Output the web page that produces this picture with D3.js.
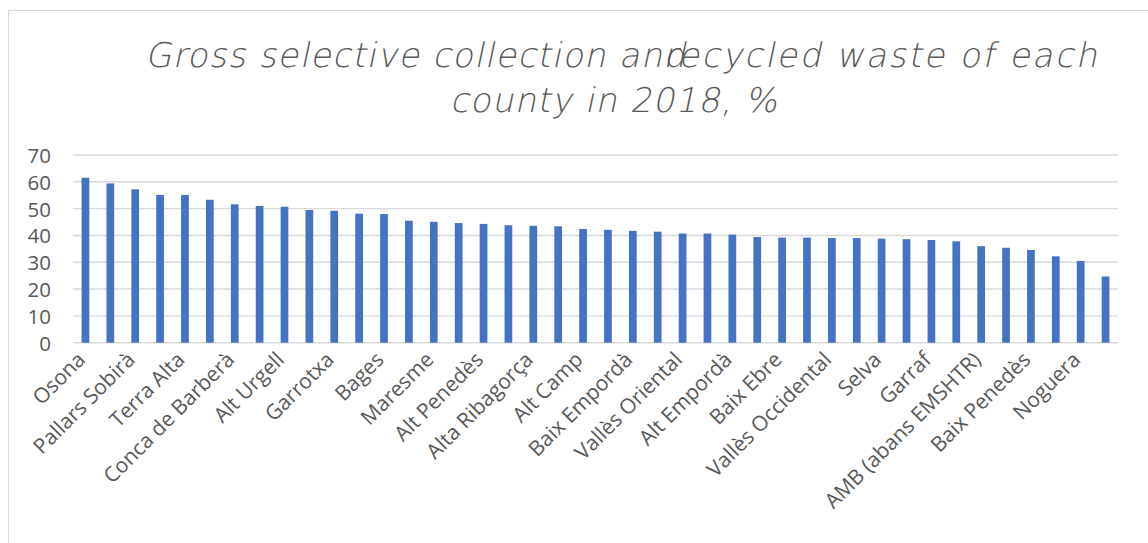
<!DOCTYPE html>
<html>
<head>
<meta charset="utf-8">
<script src="https://cdn.jsdelivr.net/npm/d3@7"></script>
<style>
  html, body { margin: 0; padding: 0; background: #fff; }
  svg { display: block; }
</style>
</head>
<body>
<svg id="chart" width="1148" height="543"></svg>
<script>
const categories = [
  "Osona", "Pla de l'Estany", "Pallars Sobirà", "Priorat", "Terra Alta", "Solsonès",
  "Conca de Barberà", "Berguedà", "Alt Urgell", "Ripollès", "Garrotxa", "Moianès",
  "Bages", "Anoia", "Maresme", "Pallars Jussà", "Alt Penedès", "Gironès",
  "Alta Ribagorça", "Segarra", "Alt Camp", "Garrigues", "Baix Empordà", "Urgell",
  "Vallès Oriental", "Pla d'Urgell", "Alt Empordà", "Cerdanya", "Baix Ebre", "Ribera d'Ebre",
  "Vallès Occidental", "Segrià", "Selva", "Montsià", "Garraf", "Baix Camp",
  "AMB (abans EMSHTR)", "Tarragonès", "Baix Penedès", "Val d'Aran", "Noguera", "Baix Llobregat"
];
const values = [
  61.5, 59.4, 57.2, 55.1, 55.1, 53.3,
  51.6, 51.0, 50.7, 49.5, 49.2, 48.1,
  48.0, 45.5, 45.1, 44.6, 44.3, 43.8,
  43.6, 43.4, 42.4, 42.1, 41.7, 41.4,
  40.7, 40.7, 40.3, 39.4, 39.2, 39.2,
  39.05, 39.0, 38.8, 38.6, 38.3, 37.8,
  36.0, 35.4, 34.6, 32.2, 30.5, 24.7
];
const yTicks = [0, 10, 20, 30, 40, 50, 60, 70];
const titleLine1a = "Gross selective collection and";
const titleLine1b = "recycled waste of each";
const titleLine2 = "county in 2018, %";

const svg = d3.select("#chart");

// chart frame
svg.append("rect")
  .attr("x", 8.5).attr("y", 10.5)
  .attr("width", 1160).attr("height", 560)
  .attr("fill", "none").attr("stroke", "#d9d9d9").attr("stroke-width", 1);

const x = d3.scaleBand()
  .domain(categories)
  .range([73, 1118])
  .paddingInner(0.69)
  .paddingOuter(0.345);

const y = d3.scaleLinear()
  .domain([0, 70])
  .range([342.7, 155]);

// gridlines
svg.append("g")
  .selectAll("line")
  .data(yTicks)
  .join("line")
  .attr("x1", 73).attr("x2", 1118)
  .attr("y1", d => y(d)).attr("y2", d => y(d))
  .attr("stroke", "#d9d9d9").attr("stroke-width", 1.4);

// y axis labels
const yAxis = d3.axisLeft(y).tickValues(yTicks).tickSize(0).tickPadding(0);
const gy = svg.append("g").attr("transform", "translate(51,0)").call(yAxis);
gy.select(".domain").remove();
gy.selectAll("text")
  .attr("font-family", "'Open Sans', sans-serif")
  .attr("font-size", 20.5)
  .attr("fill", "#595959")
  .attr("dy", "0.36em");

// bars
svg.append("g")
  .selectAll("rect")
  .data(categories)
  .join("rect")
  .attr("x", d => x(d))
  .attr("width", x.bandwidth())
  .attr("y", (d, i) => y(values[i]))
  .attr("height", (d, i) => y(0) - y(values[i]))
  .attr("fill", "#4472c4");

// x axis labels (every other category shown)
const xAxis = d3.axisBottom(x)
  .tickSize(0)
  .tickFormat((d, i) => i % 2 === 0 ? d : "");
const gx = svg.append("g").attr("transform", "translate(0,352)").call(xAxis);
gx.select(".domain").remove();
gx.selectAll("text")
  .attr("font-family", "'Open Sans', sans-serif")
  .attr("font-size", 21)
  .attr("fill", "#595959")
  .attr("text-anchor", "end")
  .attr("dy", "0")
  .attr("y", 0)
  .attr("transform", "translate(1,9) rotate(-45)");

// title (upright extra-light glyphs slanted with a skew)
const tstyle = sel => sel
  .attr("font-family", "'DejaVu Sans', sans-serif")
  .attr("font-weight", 200)
  .attr("font-size", 34)
  .attr("fill", "#595959")
  .attr("lengthAdjust", "spacing");

svg.append("text").call(tstyle)
  .attr("transform", "translate(145,67) skewX(-12)")
  .attr("textLength", 540)
  .text(titleLine1a);
svg.append("text").call(tstyle)
  .attr("transform", "translate(663,67) skewX(-12)")
  .attr("textLength", 434)
  .text(titleLine1b);
svg.append("text").call(tstyle)
  .attr("transform", "translate(450,112) skewX(-12)")
  .attr("textLength", 327)
  .text(titleLine2);
</script>
</body>
</html>
